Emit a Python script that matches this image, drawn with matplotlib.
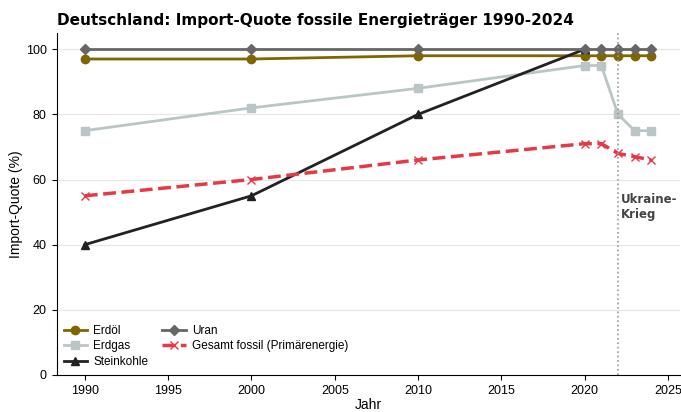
import matplotlib.pyplot as plt

years = [1990, 2000, 2010, 2020, 2021, 2022, 2023, 2024]
erdoel = [97, 97, 98, 98, 98, 98, 98, 98]
erdgas = [75, 82, 88, 95, 95, 80, 75, 75]
kohle_years = [1990, 2000, 2010, 2020]
steinkohle = [40, 55, 80, 100]
uran = [100, 100, 100, 100, 100, 100, 100, 100]
gesamt = [55, 60, 66, 71, 71, 68, 67, 66]

plt.rcParams["font.family"] = ["Liberation Sans", "DejaVu Sans"]
plt.rcParams["font.size"] = 9

fig, ax = plt.subplots(figsize=(6.81, 4.12), dpi=100)

ax.plot(years, erdoel, color="#806600", marker="o", lw=2, ms=6, label="Erdöl")
ax.plot(years, erdgas, color="#bcc5c5", marker="s", lw=2, ms=6, label="Erdgas")
ax.plot(kohle_years, steinkohle, color="#222222", marker="^", lw=2, ms=6, label="Steinkohle")
ax.plot(years, uran, color="#666666", marker="D", lw=2, ms=5.5, label="Uran")
ax.plot(years, gesamt, color="#e63946", marker="x", lw=2.5, ls="--", ms=6,
        label="Gesamt fossil (Primärenergie)")

ax.axvline(2022, color="#999999", ls=":", lw=1.2)
ax.text(2022.2, 56, "Ukraine-\nKrieg", fontsize=8.5, fontweight="bold", color="#444444",
        va="top", ha="left", family="DejaVu Sans")

ax.set_xlim(1988.3, 2025.7)
ax.set_ylim(0, 105)
ax.set_xlabel("Jahr", fontsize=10, labelpad=1)
ax.set_ylabel("Import-Quote (%)", fontsize=10, labelpad=2)
ax.set_title("Deutschland: Import-Quote fossile Energieträger 1990-2024",
             loc="left", fontweight="bold", fontsize=11, pad=6, family="DejaVu Sans")
ax.grid(axis="y", color="#e6e6e6", lw=0.8)
ax.set_axisbelow(True)
ax.spines["top"].set_visible(False)
ax.spines["right"].set_visible(False)
ax.legend(loc="lower left", ncol=2, frameon=False, fontsize=8.5,
          labelspacing=0.3, handletextpad=0.5, columnspacing=1.2,
          borderaxespad=0.2)

fig.subplots_adjust(left=0.083, right=0.998, top=0.92, bottom=0.09)
fig.savefig("out.png", dpi=100)
